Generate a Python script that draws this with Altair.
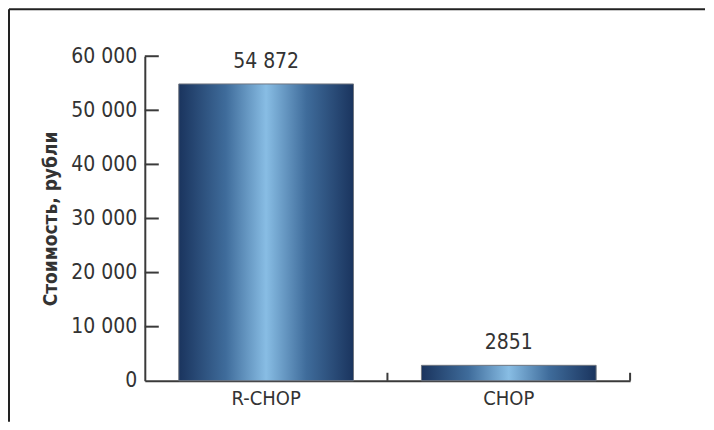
import altair as alt
import pandas as pd

categories = ["R-CHOP", "CHOP"]
costs = [54872, 2851]
cost_labels = ["54 872", "2851"]
y_ticks = [0, 10000, 20000, 30000, 40000, 50000, 60000]

df = pd.DataFrame({"regimen": categories, "cost": costs, "label": cost_labels})
tick_df = pd.DataFrame({"t": y_ticks[1:]})

FONT = "DejaVu Sans Condensed, sans-serif"
INK = "#333333"
AX = "#3a3a3a"

xscale = alt.Scale(paddingInner=0.28, paddingOuter=0.14)
yscale = alt.Scale(domain=[0, 60000], nice=False)

grad = alt.Gradient(
    gradient="linear",
    stops=[
        alt.GradientStop(color="#1a345e", offset=0),
        alt.GradientStop(color="#3f6c9b", offset=0.27),
        alt.GradientStop(color="#88bde4", offset=0.5),
        alt.GradientStop(color="#3f6c9b", offset=0.73),
        alt.GradientStop(color="#1a345e", offset=1),
    ],
    x1=0, x2=1, y1=0, y2=0,
)

bars = alt.Chart(df).mark_bar(color=grad, stroke="#6f7580", strokeWidth=1).encode(
    x=alt.X("regimen:N", sort=categories, scale=xscale,
            axis=alt.Axis(title=None, labelAngle=0, ticks=False, domainColor=AX,
                          domainWidth=2, labelFont=FONT, labelFontSize=20,
                          labelColor=INK, labelPadding=8)),
    y=alt.Y("cost:Q", scale=yscale,
            axis=alt.Axis(values=y_ticks, ticks=False, grid=False,
                          labelExpr="replace(format(datum.value, ','), ',', ' ')",
                          title="Стоимость, рубли", titleFont=FONT, titleFontSize=19,
                          titleFontWeight="bold", titleColor=INK, titlePadding=10,
                          labelFont=FONT, labelFontSize=21, labelColor=INK,
                          labelPadding=8, domainColor=AX, domainWidth=2)),
)

texts = alt.Chart(df).mark_text(baseline="alphabetic", dy=-16, font=FONT,
                                fontSize=21, color=INK).encode(
    x=alt.X("regimen:N", sort=categories),
    y=alt.Y("cost:Q"),
    text="label:N",
)

ytick_marks = alt.Chart(tick_df).mark_rule(color=AX, strokeWidth=2).encode(
    y=alt.Y("t:Q"),
    x=alt.value(0), x2=alt.value(14),
)

xtick_marks = alt.Chart(df).mark_rule(color=AX, strokeWidth=2, xOffset=34).encode(
    x=alt.X("regimen:N", sort=categories, bandPosition=1),
    y=alt.value(325), y2=alt.value(317),
)

frame_df = pd.DataFrame({"k": [0]})
frame_left = alt.Chart(frame_df).mark_rule(color="#222222", strokeWidth=2).encode(
    x=alt.value(-136), y=alt.value(-47), y2=alt.value(366))
frame_top = alt.Chart(frame_df).mark_rule(color="#222222", strokeWidth=2).encode(
    x=alt.value(-136), x2=alt.value(561), y=alt.value(-47))

chart = alt.layer(bars, texts, ytick_marks, xtick_marks, frame_left, frame_top).properties(
    width=486, height=325,
    padding=0,
    background="white",
).configure_view(stroke=None)

chart.save("out.html", embed_options={"renderer": "svg", "actions": False})
